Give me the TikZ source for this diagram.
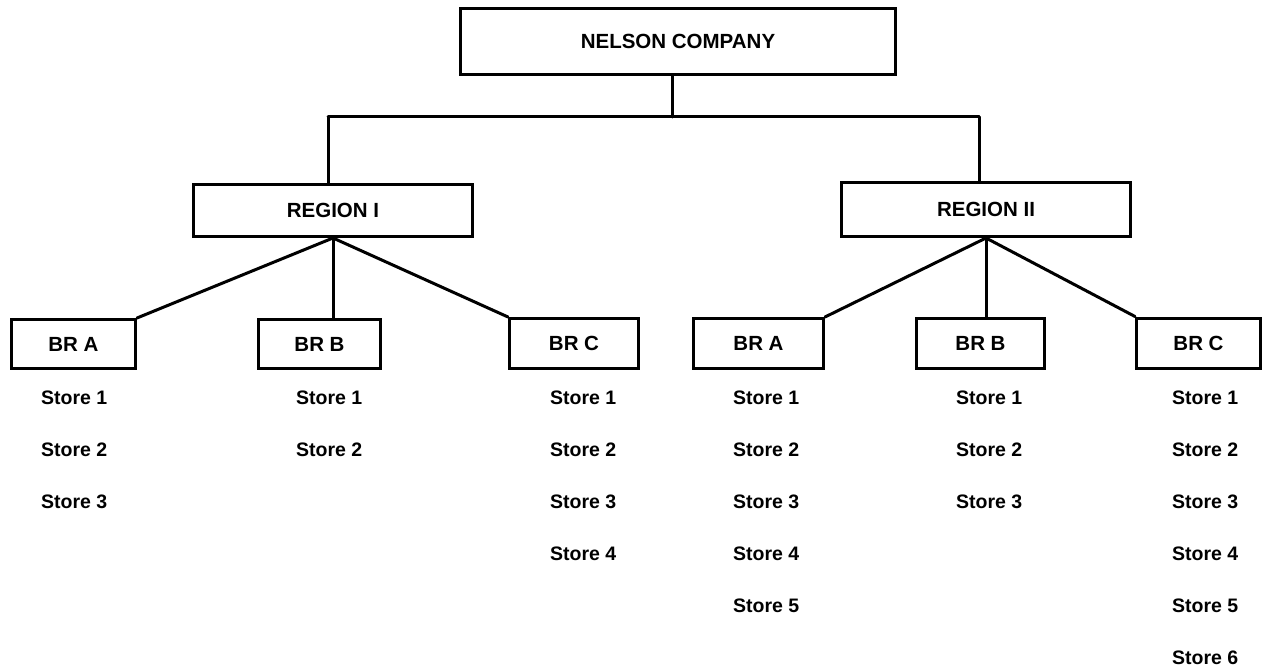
\documentclass[tikz,border=0pt]{standalone}
\usepackage{fontspec}
\setmainfont{Liberation Sans}
\begin{document}
\begin{tikzpicture}[x=1pt,y=-1pt,
  orgbox/.style={draw=black,line width=3pt,rectangle,inner sep=0pt,
    font=\fontsize{20.5}{24}\selectfont\bfseries},
  storetxt/.style={anchor=west,inner sep=0pt,font=\fontsize{19.5}{23}\selectfont\bfseries},
  link/.style={line width=3pt,line cap=round}]
\useasboundingbox (0,0) rectangle (1263,671);
% boxes
\node[orgbox,minimum width=435pt,minimum height=66pt] (top) at (678,41.5) {NELSON COMPANY};
\node[orgbox,minimum width=279pt,minimum height=52pt] (r1) at (333,210.5) {REGION I};
\node[orgbox,minimum width=289pt,minimum height=54pt] (r2) at (986,209.5) {REGION II};
\node[orgbox,minimum width=124pt,minimum height=49pt] (a1) at (73.5,344) {BR A};
\node[orgbox,minimum width=122pt,minimum height=49pt] (b1) at (319.5,344) {BR B};
\node[orgbox,minimum width=129pt,minimum height=50pt] (c1) at (574,343.5) {BR C};
\node[orgbox,minimum width=130pt,minimum height=50pt] (a2) at (758.5,343.5) {BR A};
\node[orgbox,minimum width=128pt,minimum height=50pt] (b2) at (980.5,343.5) {BR B};
\node[orgbox,minimum width=124pt,minimum height=50pt] (c2) at (1198.5,343) {BR C};
% junction coordinates
\coordinate (jt) at (672,117);
\coordinate (j1) at (328,117);
\coordinate (j2) at (979,117);
% connectors
\draw[link] (jt |- top.south) -- (jt);
\draw[link] (j1) -- (j2);
\draw[link] (j1) -- (j1 |- r1.north);
\draw[link] (j2) -- (j2 |- r2.north);
\draw[link] (r1.south) -- (a1.north east);
\draw[link] (r1.south) -- (r1.south |- b1.north);
\draw[link] (r1.south) -- (c1.north west);
\draw[link] (r2.south) -- (a2.north east);
\draw[link] (r2.south) -- (r2.south |- b2.north);
\draw[link] (r2.south) -- (c2.north west);
% stores
\foreach \n/\x/\k in {a1/41/3, b1/296/2, c1/550/4, a2/733/5, b2/956/3, c2/1172/6}{
  \foreach \i in {1,...,\k}{
    \node[storetxt] (s\n\i) at (\x,{398+52*(\i-1)}) {Store \i};
  }
}
\end{tikzpicture}
\end{document}
